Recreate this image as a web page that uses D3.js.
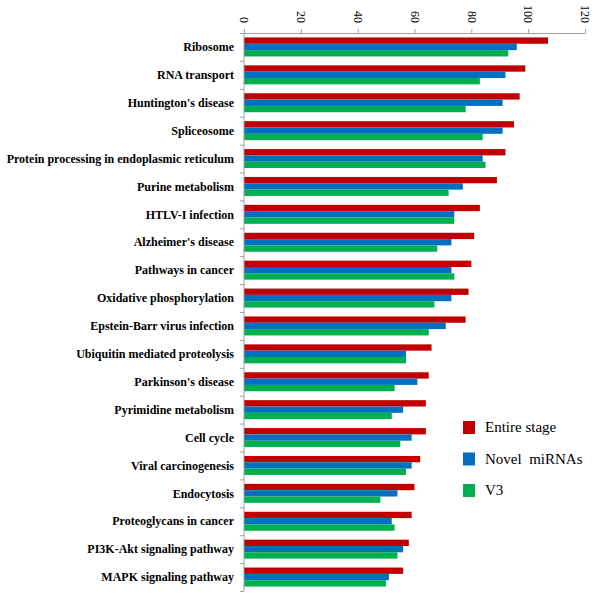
<!DOCTYPE html>
<html>
<head>
<meta charset="utf-8">
<script src="https://cdn.jsdelivr.net/npm/d3@7"></script>
<style>
  html, body { margin: 0; padding: 0; background: #fff; }
  svg { display: block; }
</style>
</head>
<body>
<svg id="chart" width="600" height="600"></svg>
<script>
const categories = [
  "Ribosome", "RNA transport", "Huntington's disease", "Spliceosome",
  "Protein processing in endoplasmic reticulum", "Purine metabolism",
  "HTLV-I infection", "Alzheimer's disease", "Pathways in cancer",
  "Oxidative phosphorylation", "Epstein-Barr virus infection",
  "Ubiquitin mediated proteolysis", "Parkinson's disease",
  "Pyrimidine metabolism", "Cell cycle", "Viral carcinogenesis",
  "Endocytosis", "Proteoglycans in cancer", "PI3K-Akt signaling pathway",
  "MAPK signaling pathway"
];
const seriesNames = ["Entire stage", "Novel  miRNAs", "V3"];
const entireStage = [107, 99, 97, 95, 92, 89, 83, 81, 80, 79, 78, 66, 65, 64, 64, 62, 60, 59, 58, 56];
const novelMiRNAs = [96, 92, 91, 91, 84, 77, 74, 73, 73, 73, 71, 57, 61, 56, 59, 59, 54, 52, 56, 51];
const v3          = [93, 83, 78, 84, 85, 72, 74, 68, 74, 67, 65, 57, 53, 52, 55, 57, 48, 53, 54, 50];
const xTicks = [0, 20, 40, 60, 80, 100, 120];
const colors = ["#C00000", "#0070C0", "#00B050"];

const seriesValues = [entireStage, novelMiRNAs, v3];
const svg = d3.select("#chart");
const serif = "'Liberation Serif', 'Times New Roman', Times, serif";

const x = d3.scaleLinear().domain([0, 120]).range([244, 585]);
const y0 = d3.scaleBand().domain(categories).range([33, 591]).paddingInner(0.32).paddingOuter(0.16);
const y1 = d3.scaleBand().domain(d3.range(3)).range([0, y0.bandwidth()]);
const color = d3.scaleOrdinal().domain(d3.range(3)).range(colors);

// bars
const groups = svg.append("g").selectAll("g")
  .data(categories)
  .join("g")
  .attr("transform", d => `translate(0,${y0(d)})`);

groups.selectAll("rect")
  .data((d, i) => seriesValues.map((s, k) => ({ k, v: s[i] })))
  .join("rect")
  .attr("x", x(0))
  .attr("y", d => y1(d.k))
  .attr("width", d => x(d.v) - x(0))
  .attr("height", y1.bandwidth())
  .attr("fill", d => color(d.k));

// top axis
const xAxis = d3.axisTop(x).tickValues(xTicks).tickSize(4).tickSizeOuter(4);
const gx = svg.append("g").attr("transform", "translate(0,33)").call(xAxis);
gx.select(".domain").attr("stroke", "#a0a0a0");
gx.selectAll(".tick line").attr("stroke", "#a0a0a0");
gx.selectAll(".tick text")
  .attr("font-family", serif)
  .attr("font-size", 12)
  .attr("fill", "#000")
  .attr("transform", "rotate(90)")
  .attr("text-anchor", "end")
  .attr("x", -10)
  .attr("y", 0)
  .attr("dy", "0.35em");

// left axis (ticks at band boundaries)
const yBound = d3.scaleLinear().domain([0, categories.length]).range([33, 591]);
const gy = svg.append("g");
gy.append("line")
  .attr("x1", x(0)).attr("x2", x(0))
  .attr("y1", yBound(0)).attr("y2", yBound(categories.length))
  .attr("stroke", "#a0a0a0");
gy.selectAll("line.tk")
  .data(d3.range(categories.length + 1))
  .join("line")
  .attr("class", "tk")
  .attr("x1", x(0) - 4).attr("x2", x(0))
  .attr("y1", d => yBound(d) + 0.5).attr("y2", d => yBound(d) + 0.5)
  .attr("stroke", "#a0a0a0");

// category labels
svg.append("g").selectAll("text")
  .data(categories)
  .join("text")
  .attr("x", 234)
  .attr("y", d => y0(d) + y0.bandwidth() / 2)
  .attr("dy", "0.35em")
  .attr("text-anchor", "end")
  .attr("font-family", serif)
  .attr("font-weight", "bold")
  .attr("font-size", 12)
  .attr("fill", "#000")
  .text(d => d);

// legend
const legendY = d3.scalePoint().domain(d3.range(3)).range([427, 490]);
const lg = svg.append("g").selectAll("g")
  .data(d3.range(3))
  .join("g")
  .attr("transform", k => `translate(463,${legendY(k)})`);
lg.append("rect")
  .attr("x", 0).attr("y", -6)
  .attr("width", 12).attr("height", 13)
  .attr("fill", k => color(k));
lg.append("text")
  .attr("x", 22).attr("y", 0)
  .attr("dy", "0.35em")
  .attr("font-family", serif)
  .attr("font-size", 15)
  .attr("fill", "#000")
  .attr("xml:space", "preserve")
  .style("white-space", "pre")
  .text(k => seriesNames[k]);
</script>
</body>
</html>
